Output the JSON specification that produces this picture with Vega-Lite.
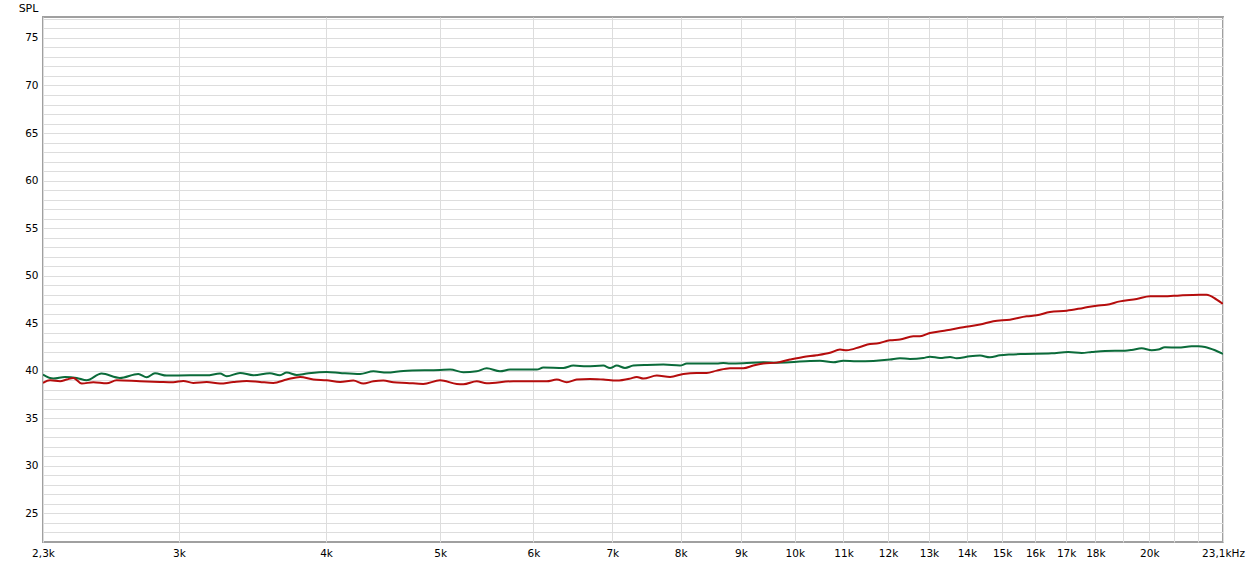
{
  "$schema": "https://vega.github.io/schema/vega-lite/v6.json",
  "autosize": "none",
  "width": 1180,
  "height": 525,
  "padding": {"left": 43, "top": 17, "right": 23, "bottom": 25},
  "background": "white",
  "config": {
    "view": {"stroke": "#a0a0a0", "strokeWidth": 2},
    "axis": {"labelFont": "DejaVu Sans", "labelFontSize": 10.5, "titleFont": "DejaVu Sans"}
  },
  "datasets": {
    "curves": [
      {"s": "green", "f": 2300, "db": 39.6},
      {"s": "green", "f": 2347, "db": 39.18},
      {"s": "green", "f": 2401, "db": 39.36},
      {"s": "green", "f": 2457, "db": 39.25},
      {"s": "green", "f": 2505, "db": 39.0},
      {"s": "green", "f": 2579, "db": 39.71},
      {"s": "green", "f": 2673, "db": 39.25},
      {"s": "green", "f": 2771, "db": 39.67},
      {"s": "green", "f": 2817, "db": 39.32},
      {"s": "green", "f": 2863, "db": 39.74},
      {"s": "green", "f": 2929, "db": 39.5},
      {"s": "green", "f": 3066, "db": 39.53},
      {"s": "green", "f": 3168, "db": 39.53},
      {"s": "green", "f": 3251, "db": 39.71},
      {"s": "green", "f": 3294, "db": 39.43},
      {"s": "green", "f": 3381, "db": 39.78},
      {"s": "green", "f": 3470, "db": 39.53},
      {"s": "green", "f": 3584, "db": 39.74},
      {"s": "green", "f": 3655, "db": 39.53},
      {"s": "green", "f": 3704, "db": 39.81},
      {"s": "green", "f": 3777, "db": 39.57},
      {"s": "green", "f": 3852, "db": 39.71},
      {"s": "green", "f": 4005, "db": 39.88},
      {"s": "green", "f": 4111, "db": 39.78},
      {"s": "green", "f": 4275, "db": 39.67},
      {"s": "green", "f": 4388, "db": 39.95},
      {"s": "green", "f": 4504, "db": 39.81},
      {"s": "green", "f": 4653, "db": 39.99},
      {"s": "green", "f": 4999, "db": 40.09},
      {"s": "green", "f": 5098, "db": 40.13},
      {"s": "green", "f": 5232, "db": 39.85},
      {"s": "green", "f": 5370, "db": 39.95},
      {"s": "green", "f": 5476, "db": 40.27},
      {"s": "green", "f": 5620, "db": 39.95},
      {"s": "green", "f": 5731, "db": 40.13},
      {"s": "green", "f": 5844, "db": 40.13},
      {"s": "green", "f": 6039, "db": 40.13},
      {"s": "green", "f": 6117, "db": 40.34},
      {"s": "green", "f": 6362, "db": 40.3},
      {"s": "green", "f": 6486, "db": 40.55},
      {"s": "green", "f": 6658, "db": 40.48},
      {"s": "green", "f": 6878, "db": 40.55},
      {"s": "green", "f": 6969, "db": 40.3},
      {"s": "green", "f": 7061, "db": 40.55},
      {"s": "green", "f": 7176, "db": 40.3},
      {"s": "green", "f": 7294, "db": 40.55},
      {"s": "green", "f": 7488, "db": 40.62},
      {"s": "green", "f": 7735, "db": 40.65},
      {"s": "green", "f": 7992, "db": 40.55},
      {"s": "green", "f": 8098, "db": 40.76},
      {"s": "green", "f": 8418, "db": 40.76},
      {"s": "green", "f": 8585, "db": 40.76},
      {"s": "green", "f": 8696, "db": 40.83},
      {"s": "green", "f": 8811, "db": 40.76},
      {"s": "green", "f": 9043, "db": 40.79},
      {"s": "green", "f": 9404, "db": 40.9},
      {"s": "green", "f": 9652, "db": 40.86},
      {"s": "green", "f": 9907, "db": 40.9},
      {"s": "green", "f": 10303, "db": 41.04},
      {"s": "green", "f": 10506, "db": 41.07},
      {"s": "green", "f": 10784, "db": 40.9},
      {"s": "green", "f": 10996, "db": 41.07},
      {"s": "green", "f": 11288, "db": 41.0},
      {"s": "green", "f": 11661, "db": 41.04},
      {"s": "green", "f": 12046, "db": 41.18},
      {"s": "green", "f": 12284, "db": 41.32},
      {"s": "green", "f": 12527, "db": 41.25},
      {"s": "green", "f": 12857, "db": 41.35},
      {"s": "green", "f": 13027, "db": 41.49},
      {"s": "green", "f": 13284, "db": 41.35},
      {"s": "green", "f": 13547, "db": 41.46},
      {"s": "green", "f": 13725, "db": 41.32},
      {"s": "green", "f": 14087, "db": 41.53},
      {"s": "green", "f": 14365, "db": 41.6},
      {"s": "green", "f": 14646, "db": 41.42},
      {"s": "green", "f": 14936, "db": 41.63},
      {"s": "green", "f": 15231, "db": 41.72},
      {"s": "green", "f": 15686, "db": 41.77},
      {"s": "green", "f": 16524, "db": 41.84},
      {"s": "green", "f": 17069, "db": 41.98},
      {"s": "green", "f": 17524, "db": 41.88},
      {"s": "green", "f": 17870, "db": 41.98},
      {"s": "green", "f": 18343, "db": 42.09},
      {"s": "green", "f": 19070, "db": 42.12},
      {"s": "green", "f": 19321, "db": 42.19},
      {"s": "green", "f": 19702, "db": 42.37},
      {"s": "green", "f": 20092, "db": 42.16},
      {"s": "green", "f": 20353, "db": 42.23},
      {"s": "green", "f": 20622, "db": 42.47},
      {"s": "green", "f": 21166, "db": 42.44},
      {"s": "green", "f": 21727, "db": 42.58},
      {"s": "green", "f": 22010, "db": 42.58},
      {"s": "green", "f": 22301, "db": 42.51},
      {"s": "green", "f": 22742, "db": 42.16},
      {"s": "green", "f": 23100, "db": 41.77},
      {"s": "red", "f": 2300, "db": 38.73},
      {"s": "red", "f": 2332, "db": 39.0},
      {"s": "red", "f": 2378, "db": 38.9},
      {"s": "red", "f": 2409, "db": 39.08},
      {"s": "red", "f": 2441, "db": 39.25},
      {"s": "red", "f": 2481, "db": 38.66},
      {"s": "red", "f": 2538, "db": 38.8},
      {"s": "red", "f": 2605, "db": 38.69},
      {"s": "red", "f": 2656, "db": 39.0},
      {"s": "red", "f": 2780, "db": 38.9},
      {"s": "red", "f": 2891, "db": 38.83},
      {"s": "red", "f": 2967, "db": 38.8},
      {"s": "red", "f": 3026, "db": 38.94},
      {"s": "red", "f": 3085, "db": 38.73},
      {"s": "red", "f": 3168, "db": 38.83},
      {"s": "red", "f": 3251, "db": 38.66},
      {"s": "red", "f": 3337, "db": 38.83},
      {"s": "red", "f": 3426, "db": 38.94},
      {"s": "red", "f": 3515, "db": 38.83},
      {"s": "red", "f": 3608, "db": 38.73},
      {"s": "red", "f": 3704, "db": 39.08},
      {"s": "red", "f": 3802, "db": 39.36},
      {"s": "red", "f": 3902, "db": 39.08},
      {"s": "red", "f": 4005, "db": 39.0},
      {"s": "red", "f": 4111, "db": 38.83},
      {"s": "red", "f": 4219, "db": 38.97},
      {"s": "red", "f": 4303, "db": 38.66},
      {"s": "red", "f": 4388, "db": 38.9},
      {"s": "red", "f": 4474, "db": 38.97},
      {"s": "red", "f": 4563, "db": 38.8},
      {"s": "red", "f": 4684, "db": 38.73},
      {"s": "red", "f": 4837, "db": 38.62},
      {"s": "red", "f": 4999, "db": 39.0},
      {"s": "red", "f": 5165, "db": 38.62},
      {"s": "red", "f": 5232, "db": 38.59},
      {"s": "red", "f": 5370, "db": 38.9},
      {"s": "red", "f": 5476, "db": 38.69},
      {"s": "red", "f": 5768, "db": 38.9},
      {"s": "red", "f": 5960, "db": 38.9},
      {"s": "red", "f": 6158, "db": 38.9},
      {"s": "red", "f": 6280, "db": 39.08},
      {"s": "red", "f": 6404, "db": 38.8},
      {"s": "red", "f": 6529, "db": 39.08},
      {"s": "red", "f": 6701, "db": 39.15},
      {"s": "red", "f": 6878, "db": 39.08},
      {"s": "red", "f": 7061, "db": 38.97},
      {"s": "red", "f": 7247, "db": 39.18},
      {"s": "red", "f": 7343, "db": 39.36},
      {"s": "red", "f": 7438, "db": 39.18},
      {"s": "red", "f": 7636, "db": 39.5},
      {"s": "red", "f": 7837, "db": 39.36},
      {"s": "red", "f": 8044, "db": 39.67},
      {"s": "red", "f": 8255, "db": 39.78},
      {"s": "red", "f": 8418, "db": 39.78},
      {"s": "red", "f": 8585, "db": 40.02},
      {"s": "red", "f": 8811, "db": 40.27},
      {"s": "red", "f": 9043, "db": 40.27},
      {"s": "red", "f": 9222, "db": 40.55},
      {"s": "red", "f": 9404, "db": 40.76},
      {"s": "red", "f": 9652, "db": 40.86},
      {"s": "red", "f": 9907, "db": 41.18},
      {"s": "red", "f": 10168, "db": 41.46},
      {"s": "red", "f": 10439, "db": 41.64},
      {"s": "red", "f": 10715, "db": 41.9},
      {"s": "red", "f": 10925, "db": 42.23},
      {"s": "red", "f": 11070, "db": 42.16},
      {"s": "red", "f": 11361, "db": 42.51},
      {"s": "red", "f": 11586, "db": 42.82},
      {"s": "red", "f": 11739, "db": 42.86},
      {"s": "red", "f": 12046, "db": 43.21},
      {"s": "red", "f": 12284, "db": 43.28},
      {"s": "red", "f": 12608, "db": 43.63},
      {"s": "red", "f": 12774, "db": 43.63},
      {"s": "red", "f": 13027, "db": 43.98},
      {"s": "red", "f": 13460, "db": 44.26},
      {"s": "red", "f": 13904, "db": 44.58},
      {"s": "red", "f": 14365, "db": 44.86},
      {"s": "red", "f": 14744, "db": 45.21},
      {"s": "red", "f": 15231, "db": 45.38},
      {"s": "red", "f": 15737, "db": 45.73},
      {"s": "red", "f": 16049, "db": 45.83},
      {"s": "red", "f": 16471, "db": 46.19},
      {"s": "red", "f": 17018, "db": 46.32},
      {"s": "red", "f": 17581, "db": 46.61},
      {"s": "red", "f": 18047, "db": 46.85},
      {"s": "red", "f": 18400, "db": 46.95},
      {"s": "red", "f": 18885, "db": 47.3},
      {"s": "red", "f": 19513, "db": 47.55},
      {"s": "red", "f": 20028, "db": 47.83},
      {"s": "red", "f": 20556, "db": 47.83},
      {"s": "red", "f": 21240, "db": 47.93},
      {"s": "red", "f": 22084, "db": 48.0},
      {"s": "red", "f": 22369, "db": 48.0},
      {"s": "red", "f": 22815, "db": 47.48},
      {"s": "red", "f": 23100, "db": 47.02}
    ]
  },
  "data": {"name": "curves"},
  "mark": {"type": "line", "interpolate": "monotone", "strokeWidth": 2, "clip": true},
  "encoding": {
    "x": {
      "field": "f",
      "type": "quantitative",
      "scale": {"type": "log", "domain": [2300, 23100], "nice": false},
      "axis": {
        "title": null,
        "domain": false,
        "ticks": false,
        "labelPadding": 6,
        "labelFlush": false,
        "labelOverlap": false,
        "labelColor": "#000",
        "values": [2300, 3000, 4000, 5000, 6000, 7000, 8000, 9000, 10000, 11000, 12000, 13000, 14000, 15000, 16000, 17000, 18000, 19000, 20000, 21000, 22000, 23100],
        "labelExpr": "datum.value == 2300 ? '2,3k' : datum.value == 23100 ? '23,1kHz' : (datum.value == 19000 || datum.value == 21000 || datum.value == 22000) ? '' : (datum.value / 1000) + 'k'",
        "encode": {
          "grid": {"update": {"stroke": {"signal": "datum.value == 10000 ? '#7c7c7c' : datum.value == 20000 ? '#bcbcbc' : datum.value > 10000 ? '#dcdcdc' : '#c4c4c4'"}}},
          "labels": {"update": {"fill": {"signal": "(datum.value >= 11000 && datum.value <= 18000) ? '#8a8a8a' : '#000000'"}}}
        }
      }
    },
    "y": {
      "field": "db",
      "type": "quantitative",
      "scale": {"domain": [22, 77.2], "nice": false, "zero": false},
      "axis": {
        "title": "SPL",
        "titleAngle": 0,
        "titleX": -15,
        "titleY": -9,
        "titleAlign": "center",
        "titleBaseline": "middle",
        "titleFontSize": 11,
        "titleFontWeight": "normal",
        "titleColor": "#000",
        "domain": false,
        "ticks": false,
        "labelPadding": 5,
        "labelColor": "#000",
        "labelOverlap": false,
        "values": [23, 24, 25, 26, 27, 28, 29, 30, 31, 32, 33, 34, 35, 36, 37, 38, 39, 40, 41, 42, 43, 44, 45, 46, 47, 48, 49, 50, 51, 52, 53, 54, 55, 56, 57, 58, 59, 60, 61, 62, 63, 64, 65, 66, 67, 68, 69, 70, 71, 72, 73, 74, 75, 76, 77],
        "labelExpr": "datum.value % 5 == 0 ? datum.label : ''",
        "encode": {
          "grid": {"update": {"stroke": {"signal": "datum.value % 5 == 0 ? '#c4c4c4' : '#e2e2e2'"}}}
        }
      }
    },
    "color": {
      "field": "s",
      "type": "nominal",
      "scale": {"domain": ["green", "red"], "range": ["#0b6b3a", "#b50d0d"]},
      "legend": null
    }
  }
}
